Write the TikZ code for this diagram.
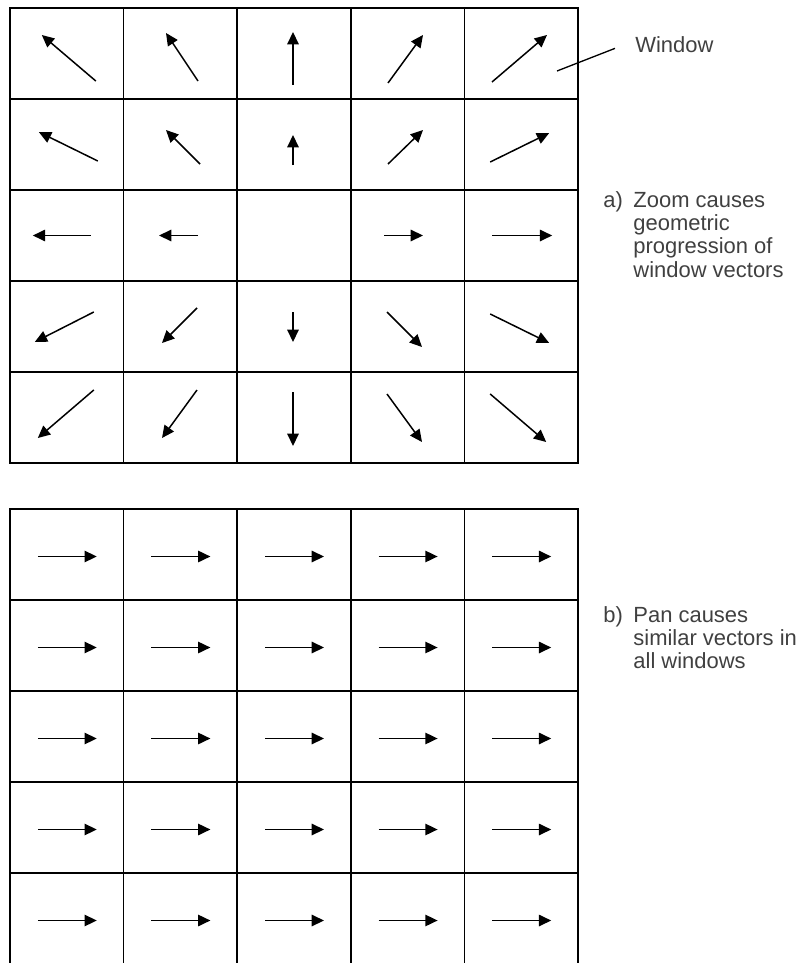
\documentclass[tikz,border=0pt]{standalone}
\usepackage{fontspec}
\setmainfont{Liberation Sans}
\usetikzlibrary{arrows.meta, positioning, calc}

\begin{document}
\begin{tikzpicture}[
    x=0.02cm, y=-0.02cm,
    cell/.style={rectangle, draw, line width=1pt, minimum width=2.272cm, minimum height=1.82cm, inner sep=0pt, outer sep=0pt},
    vec/.style={-{Triangle[length=7pt, width=6.5pt]}, line width=0.85pt},
    note/.style={font=\fontsize{12.5}{13.3}\selectfont, text=black!75, inner sep=0pt},
    leader/.style={line width=0.75pt},
]
    \useasboundingbox (0,0) rectangle (796,963);

    % Grid a): zoom windows
    \foreach \r in {1,...,5}
        \foreach \c in {1,...,5}
            \node[cell] (z\r\c) at ({10+113.6*(\c-0.5)}, {8+91*(\r-0.5)}) {};

    % Grid b): pan windows
    \foreach \r in {1,...,5}
        \foreach \c in {1,...,5}
            \node[cell] (p\r\c) at ({10+113.6*(\c-0.5)}, {509+91*(\r-0.5)}) {};

    % Zoom vectors, row 1
    \draw[vec] ($(z11)+(29,27.5)$) -- ($(z11)+(-25,-18.5)$);
    \draw[vec] ($(z12)+(17.6,27.5)$) -- ($(z12)+(-14.4,-20.5)$);
    \draw[vec] ($(z13)+(-1,31.5)$) -- ($(z13)+(-1,-21.5)$);
    \draw[vec] ($(z14)+(-19.6,29.5)$) -- ($(z14)+(15.4,-18.5)$);
    \draw[vec] ($(z15)+(-29.2,28.5)$) -- ($(z15)+(25.8,-18.5)$);

    % Zoom vectors, row 2
    \draw[vec] ($(z21)+(31,16.5)$) -- ($(z21)+(-28,-12.5)$);
    \draw[vec] ($(z22)+(19.6,19.5)$) -- ($(z22)+(-14.4,-14.5)$);
    \draw[vec] ($(z23)+(-1,20.5)$) -- ($(z23)+(-1,-9.5)$);
    \draw[vec] ($(z24)+(-19.6,19.5)$) -- ($(z24)+(15.4,-14.5)$);
    \draw[vec] ($(z25)+(-31,17.5)$) -- ($(z25)+(28,-11.5)$);

    % Zoom vectors, row 3 (centre window has none)
    \draw[vec] ($(z31)+(24,0)$) -- ($(z31)+(-34,0)$);
    \draw[vec] ($(z32)+(17.6,0)$) -- ($(z32)+(-21.4,0)$);
    \draw[vec] ($(z34)+(-23.6,0)$) -- ($(z34)+(15.4,0)$);
    \draw[vec] ($(z35)+(-29,0)$) -- ($(z35)+(31,0)$);

    % Zoom vectors, row 4
    \draw[vec] ($(z41)+(27,-14.5)$) -- ($(z41)+(-32,15.5)$);
    \draw[vec] ($(z42)+(16.6,-18.5)$) -- ($(z42)+(-18.4,16.5)$);
    \draw[vec] ($(z43)+(-1,-14.5)$) -- ($(z43)+(-1,15.5)$);
    \draw[vec] ($(z44)+(-20.6,-14.5)$) -- ($(z44)+(14.4,20.5)$);
    \draw[vec] ($(z45)+(-31,-12.5)$) -- ($(z45)+(28,16.5)$);

    % Zoom vectors, row 5
    \draw[vec] ($(z51)+(27,-27.5)$) -- ($(z51)+(-29,20.5)$);
    \draw[vec] ($(z52)+(16.6,-27.5)$) -- ($(z52)+(-18.4,20.5)$);
    \draw[vec] ($(z53)+(-1,-25.5)$) -- ($(z53)+(-1,28.5)$);
    \draw[vec] ($(z54)+(-20.6,-23.5)$) -- ($(z54)+(14.4,24.5)$);
    \draw[vec] ($(z55)+(-31,-23.5)$) -- ($(z55)+(25,24.5)$);

    % Pan vectors, all the same
    \foreach \r in {1,...,5}
        \foreach \c in {1,...,5}
            \draw[vec] ($(p\r\c)+(-29,2)$) -- ($(p\r\c)+(30,2)$);

    % Labels
    \node[note, anchor=base west, inner xsep=11.4pt] (win) at (615,53) {Window};
    \coordinate (winpt) at (557,71);
    \draw[leader] (winpt) -- (win.mid west);

    \node[note, anchor=base west] (capA) at (603,207) {\begin{tabular}[t]{@{}l@{\hspace{6pt}}l@{}}a)&Zoom causes\\&geometric\\&progression of\\&window vectors\end{tabular}};
    \node[note, anchor=base west] (capB) at (603,622) {\begin{tabular}[t]{@{}l@{\hspace{6pt}}l@{}}b)&Pan causes\\&similar vectors in\\&all windows\end{tabular}};
\end{tikzpicture}
\end{document}
